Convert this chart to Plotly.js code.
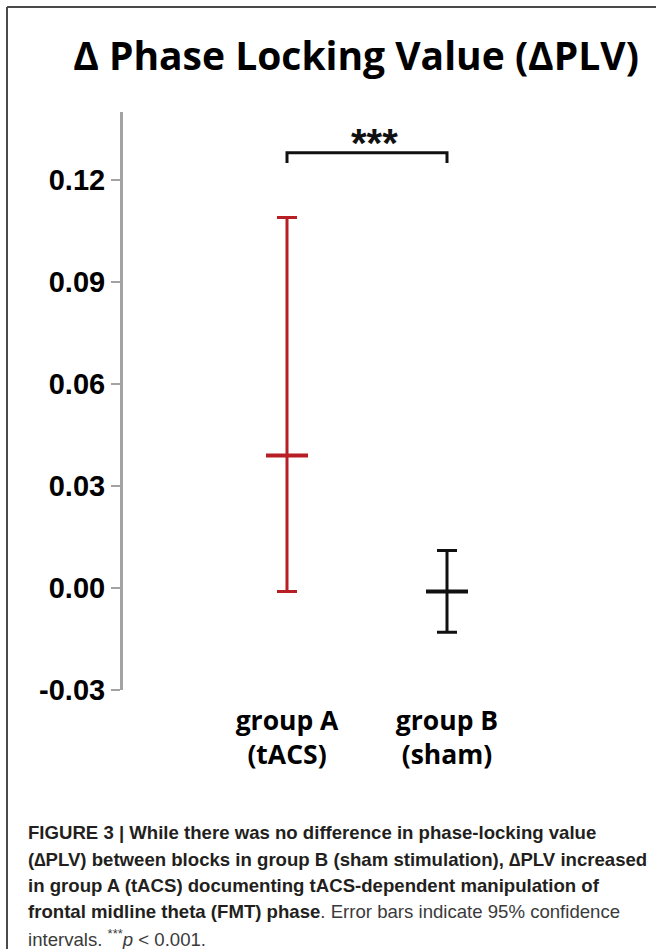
<!DOCTYPE html>
<html>
<head>
<meta charset="utf-8">
<script src="https://cdn.plot.ly/plotly-3.0.1.min.js"></script>
<style>
html,body{margin:0;padding:0;background:#fff;}
#chart{width:656px;height:949px;}
</style>
</head>
<body>
<div id="chart"></div>
<script>
// ---- data ----
const groups = ['group A<br>(tACS)', 'group B<br>(sham)'];
const means = [0.039, -0.001];
const ciUpper = [0.109, 0.011];
const ciLower = [-0.001, -0.013];
const groupColors = ['#b81f24', '#111111'];
const yTickVals = [-0.03, 0.00, 0.03, 0.06, 0.09, 0.12];
const yTickText = ['-0.03', '0.00', '0.03', '0.06', '0.09', '0.12'];
const sigPair = [0, 1];
const sigY = 0.128;
const sigLabel = '***';

const traces = groups.map((g, i) => ({
  type: 'scatter',
  mode: 'markers',
  x: [g],
  y: [means[i]],
  marker: {symbol: 'line-ew', size: 30, line: {color: groupColors[i], width: 4}, color: groupColors[i]},
  error_y: {
    type: 'data', symmetric: false,
    array: [ciUpper[i] - means[i]],
    arrayminus: [means[i] - ciLower[i]],
    color: groupColors[i], thickness: 3, width: 10
  },
  showlegend: false,
  hoverinfo: 'skip'
}));

const L = 123, R = 20, T = 112, B = 259, W = 656, H = 949;
const pw = W - L - R, ph = H - T - B;
const px = v => (v - L) / pw;
const py = v => (H - B - v) / ph;

const capFont = {family: 'Liberation Sans, Arial, sans-serif', size: 18.6, color: '#231f20'};
const captionLines = [
  '<b>FIGURE 3 | While there was no difference in phase-locking value</b>',
  '<b>(\u2206PLV) between blocks in group B (sham stimulation), \u2206PLV increased</b>',
  '<b>in group A (tACS) documenting tACS-dependent manipulation of</b>',
  '<b>frontal midline theta (FMT) phase</b><span style="color:#3a3a3a">. Error bars indicate 95% confidence</span>',
  '<span style="color:#3a3a3a">intervals. <sup>***</sup><i>p</i> &lt; 0.001.</span>'
];
const captionY = [832, 859, 885, 912, 938];

const annotations = captionLines.map((t, i) => ({
  xref: 'paper', yref: 'paper', x: px(26), y: py(captionY[i]),
  xanchor: 'left', yanchor: 'middle', text: t, showarrow: false, font: capFont, align: 'left'
}));
annotations.push({
  xref: 'x', yref: 'y', x: (sigPair[0] + sigPair[1]) / 2, y: sigY,
  xanchor: 'center', yanchor: 'bottom', yshift: -14, xshift: 7,
  text: '<b>' + sigLabel + '</b>', showarrow: false,
  font: {family: 'Liberation Sans, Arial, sans-serif', size: 40, color: '#111'}
});

const shapes = [
  {type: 'path', xref: 'x', yref: 'y',
   path: `M ${sigPair[0]} ${sigY - 0.003} L ${sigPair[0]} ${sigY} L ${sigPair[1]} ${sigY} L ${sigPair[1]} ${sigY - 0.003}`,
   line: {color: '#111', width: 3}},
  {type: 'line', xref: 'paper', yref: 'paper', x0: px(7), x1: px(7), y0: py(7), y1: py(960), line: {color: '#4a4a4a', width: 2}},
  {type: 'line', xref: 'paper', yref: 'paper', x0: px(7), x1: px(670), y0: py(7), y1: py(7), line: {color: '#4a4a4a', width: 2}}
];

const layout = {
  width: W, height: H,
  margin: {l: L, r: R, t: T, b: B, pad: 0},
  paper_bgcolor: '#ffffff', plot_bgcolor: '#ffffff',
  title: {
    text: '\u0394 Phase Locking Value (\u0394PLV)',
    xref: 'container', yref: 'container', x: 356 / W, y: 1 - 56 / H,
    xanchor: 'center', yanchor: 'middle',
    font: {family: 'Open Sans, sans-serif', size: 39, weight: 'bold', color: '#000'}
  },
  xaxis: {
    type: 'category',
    range: [-(287 - L) / 160, -(287 - L) / 160 + pw / 160],
    showline: false, showgrid: false, zeroline: false, ticks: '',
    tickfont: {family: 'Open Sans, sans-serif', size: 26.5, weight: 'bold', color: '#000'},
    ticklabelstandoff: 12
  },
  yaxis: {
    range: [-0.03, 0.14],
    tickvals: yTickVals, ticktext: yTickText,
    showline: true, linecolor: '#a3a3a3', linewidth: 3,
    ticks: 'outside', ticklen: 9, tickwidth: 2, tickcolor: '#a3a3a3',
    showgrid: false, zeroline: false,
    tickfont: {family: 'Liberation Sans, Arial, sans-serif', size: 29, weight: 'bold', color: '#000'}
  },
  annotations: annotations,
  shapes: shapes
};

Plotly.newPlot('chart', traces, layout, {displayModeBar: false, staticPlot: true});
</script>
</body>
</html>
